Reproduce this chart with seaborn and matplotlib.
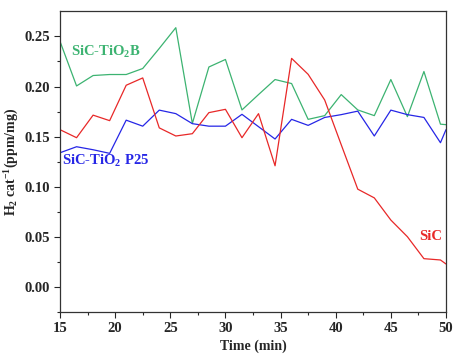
import seaborn as sns
import matplotlib.pyplot as plt
import pandas as pd

# times (min) and H2 production per catalyst mass
time = [15, 16.5, 18, 19.5, 21, 22.5, 24, 25.5, 27, 28.5, 30, 31.5, 33,
        34.5, 36, 37.5, 39, 40.5, 42, 43.5, 45, 46.5, 48, 49.5, 50]
sic_tio2_b = [0.245, 0.2006, 0.211, 0.212, 0.212, 0.218, 0.238, 0.2587, 0.1632,
              0.2195, 0.227, 0.1767, 0.192, 0.207, 0.203, 0.1673, 0.171, 0.192,
              0.1767, 0.171, 0.207, 0.170, 0.215, 0.1625, 0.162]
sic_tio2_p25 = [0.134, 0.140, 0.137, 0.1334, 0.1665, 0.1605, 0.1765, 0.173, 0.163,
                0.1605, 0.1605, 0.1723, 0.160, 0.1477, 0.1673, 0.1613, 0.1692, 0.172,
                0.1755, 0.1507, 0.1765, 0.172, 0.1692, 0.144, 0.157]
sic = [0.157, 0.149, 0.1715, 0.166, 0.2013, 0.2086, 0.1588, 0.1507, 0.153,
       0.174, 0.1773, 0.149, 0.173, 0.121, 0.2281, 0.2122, 0.1866, 0.142,
       0.0977, 0.089, 0.0669, 0.0503, 0.0284, 0.0271, 0.0231]

sns.set_style("ticks")
plt.rcParams['font.family'] = ['Liberation Serif', 'DejaVu Serif']
plt.rcParams['font.weight'] = 'bold'
plt.rcParams['mathtext.fontset'] = 'custom'
plt.rcParams['mathtext.rm'] = 'Liberation Serif:bold'
plt.rcParams['mathtext.default'] = 'rm'

green, blue, red = '#3cb371', '#2626e6', '#e82828'

fig = plt.figure(figsize=(4.53, 3.54), dpi=100)
ax = fig.add_axes([0.1325, 0.118, 0.852, 0.850])

df = pd.DataFrame({'time': time, 'b': sic_tio2_b, 'p25': sic_tio2_p25, 'sic': sic})
sns.lineplot(data=df, x='time', y='b', color=green, lw=0.9, ax=ax)
sns.lineplot(data=df, x='time', y='p25', color=blue, lw=0.9, ax=ax)
sns.lineplot(data=df, x='time', y='sic', color=red, lw=0.9, ax=ax)

ax.set_xlim(15, 50)
ax.set_ylim(-0.025, 0.275)
ax.set_xticks([15, 20, 25, 30, 35, 40, 45, 50])
ax.set_xticks([17.5, 22.5, 27.5, 32.5, 37.5, 42.5, 47.5], minor=True)
ax.set_yticks([0.0, 0.05, 0.10, 0.15, 0.20, 0.25])
ax.set_yticks([-0.025, 0.025, 0.075, 0.125, 0.175, 0.225], minor=True)
ax.set_yticklabels(['0.00', '0.05', '0.10', '0.15', '0.20', '0.25'])
ax.tick_params(which='major', length=4, width=0.8, labelsize=10.5, direction='out', pad=3)
ax.tick_params(which='minor', length=2.5, width=0.8, direction='out')
for s in ax.spines.values():
    s.set_linewidth(0.9)
    s.set_color('#333333')

ax.set_xlabel('Time (min)', fontsize=10, fontweight='bold', labelpad=3)
ax.set_ylabel('H$_2$ cat$^{-1}$(ppm/mg)', fontsize=10, fontweight='bold', labelpad=3)

ax.text(16.0, 0.2345, 'SiC-TiO$_2$B', color=green, fontsize=10.5, fontweight='bold', va='center')
ax.text(15.2, 0.1255, 'SiC-TiO$_2$ P25', color=blue, fontsize=10.5, fontweight='bold', va='center')
ax.text(47.6, 0.0505, 'SiC', color=red, fontsize=10.5, fontweight='bold', va='center')

fig.savefig('out.png', dpi=100)
